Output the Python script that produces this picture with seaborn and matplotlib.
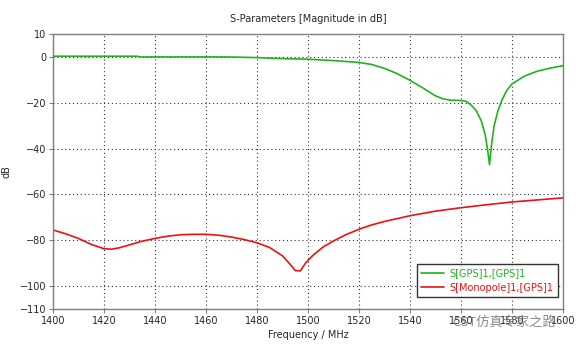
import matplotlib
matplotlib.use("Agg")
import matplotlib.pyplot as plt
import seaborn as sns
import pandas as pd

# ---- data ----
gps_freq = [1400, 1420, 1433, 1434, 1450, 1468, 1480, 1489, 1500, 1510, 1520, 1525,
            1530, 1535, 1540, 1545, 1550, 1553, 1556, 1560, 1562, 1564, 1566, 1568,
            1569.5, 1570.5, 1571.2, 1572, 1573, 1574.5, 1576, 1578, 1580, 1585, 1590,
            1595, 1600]
gps_db = [0.3, 0.3, 0.3, 0.0, 0.0, 0.0, -0.3, -0.7, -1.0, -1.6, -2.4, -3.3,
          -5.0, -7.3, -10.2, -13.5, -17.0, -18.3, -18.9, -19.0, -19.4, -21.0, -23.5, -28.0,
          -34.0, -41.0, -47.0, -38.0, -30.0, -23.5, -19.0, -14.5, -11.8, -8.3, -6.2,
          -4.9, -3.8]

mono_freq = [1400, 1405, 1410, 1415, 1420, 1423, 1426, 1430, 1435, 1440, 1445, 1450,
             1455, 1460, 1465, 1470, 1475, 1480, 1485, 1490, 1493, 1495, 1497, 1499,
             1502, 1506, 1510, 1515, 1520, 1525, 1530, 1540, 1550, 1560, 1570, 1580,
             1590, 1600]
mono_db = [-75.5, -77.2, -79.2, -81.8, -83.7, -83.9, -83.3, -82.0, -80.4, -79.2, -78.2, -77.6,
           -77.4, -77.4, -77.8, -78.6, -79.7, -81.1, -83.2, -86.8, -90.5, -93.2, -93.4, -90.0,
           -86.5, -82.9, -80.3, -77.5, -75.2, -73.3, -71.8, -69.3, -67.3, -65.8, -64.5, -63.3,
           -62.4, -61.5]

series_names = ["S[GPS]1,[GPS]1", "S[Monopole]1,[GPS]1"]
series_colors = ["#1db41d", "#ee1111"]
x_ticks = [1400, 1420, 1440, 1460, 1480, 1500, 1520, 1540, 1560, 1580, 1600]
y_ticks = [10, 0, -20, -40, -60, -80, -100, -110]

df = pd.concat([
    pd.DataFrame({"freq": gps_freq, "db": gps_db, "series": series_names[0]}),
    pd.DataFrame({"freq": mono_freq, "db": mono_db, "series": series_names[1]}),
])

sns.set_theme(style="white")
plt.rcParams["font.family"] = ["DejaVu Sans", "Noto Sans CJK SC"]

fig = plt.figure(figsize=(5.76, 3.47), dpi=100)
ax = fig.add_axes([0.092, 0.1095, 0.8854, 0.7925])

sns.lineplot(data=df, x="freq", y="db", hue="series", palette=series_colors,
             hue_order=series_names, linewidth=1.2, ax=ax, sort=False,
             estimator=None)

ax.set_xlim(1400, 1600)
ax.set_ylim(-110, 10)
ax.set_xticks(x_ticks)
ax.set_yticks(y_ticks)
ax.tick_params(axis="both", labelsize=7, length=3, width=0.8, color="#808080",
               direction="out", pad=2, left=True, bottom=True)
ax.grid(True, linestyle=(0, (1.0, 2.5)), color="#333333", linewidth=0.8)
for s in ax.spines.values():
    s.set_color("#808080")
    s.set_linewidth(1.0)

ax.set_title("S-Parameters [Magnitude in dB]", fontsize=7, pad=9)
ax.set_xlabel("Frequency / MHz", fontsize=7, labelpad=3)
ax.set_ylabel("dB", fontsize=7, labelpad=6)

leg = ax.legend(loc="lower right", bbox_to_anchor=(0.99, 0.044), fontsize=7,
                frameon=True, fancybox=False, edgecolor="black",
                handlelength=2.3, handletextpad=0.6, borderpad=0.45,
                labelspacing=0.45, borderaxespad=0)
leg.get_frame().set_linewidth(1.0)
for t, c in zip(leg.get_texts(), series_colors):
    t.set_color(c)

fig.text(0.785, 0.072, "CST仿真专家之路", fontsize=9.5, color="#777777",
         family=["Noto Sans CJK SC", "DejaVu Sans"], alpha=0.85, va="center")

fig.savefig("out.png", dpi=100, facecolor="white")
